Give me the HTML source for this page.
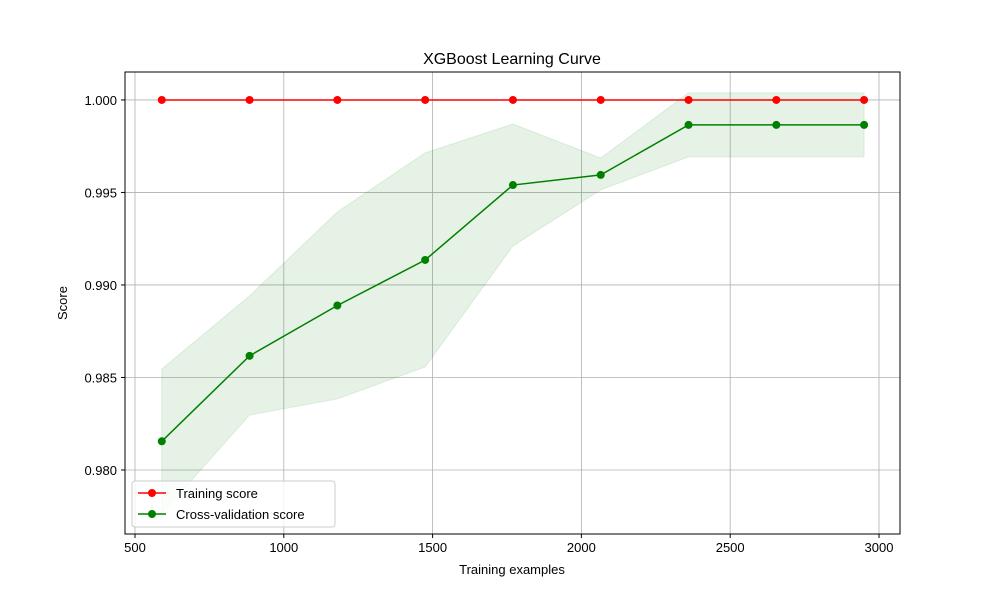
<!DOCTYPE html>
<html><head><meta charset="utf-8"><style>
body{margin:0;background:#fff;}
svg text{font-family:"Liberation Sans","DejaVu Sans",sans-serif;}
</style></head><body>
<svg id="chart" width="1000" height="600" xmlns="http://www.w3.org/2000/svg">
<rect width="1000" height="600" fill="#fff"/>
<g id="grid"></g><g id="band"></g><g id="lines"></g><g id="axes"></g>
<text x="512" y="64" text-anchor="middle" font-size="16">XGBoost Learning Curve</text>
<text x="512" y="574" text-anchor="middle" font-size="13">Training examples</text>
<text transform="translate(67,303) rotate(-90)" text-anchor="middle" font-size="13">Score</text>
<g>
<rect x="132" y="481" width="203" height="46" rx="3" fill="#fff" fill-opacity="0.8" stroke="#ccc"/>
<g><line x1="138" y1="493" x2="166" y2="493" stroke="red" stroke-width="1.5"/><circle cx="152" cy="493" r="4" fill="red"/><text x="176" y="498" font-size="13">Training score</text></g>
<g><line x1="138" y1="514" x2="166" y2="514" stroke="green" stroke-width="1.5"/><circle cx="152" cy="514" r="4" fill="green"/><text x="176" y="519" font-size="13">Cross-validation score</text></g>
</g>
</svg>
<script>
const trainSizes=[590,885,1180,1475,1770,2065,2360,2655,2950];
const trainScores=[1,1,1,1,1,1,1,1,1];
const cvScores=[0.98155,0.98617,0.98889,0.99135,0.99540,0.99595,0.99865,0.99865,0.99865];
const cvUpper=[0.98546,0.98941,0.99395,0.99714,0.99870,0.99686,1.00038,1.00038,1.00038];
const cvLower=[0.97764,0.98297,0.98384,0.98557,0.99211,0.99514,0.99692,0.99692,0.99692];
const xTicks=[500,1000,1500,2000,2500,3000];
const yTicks=[0.980,0.985,0.990,0.995,1.000];
const L=125,R=900,T=72,B=534,xMin=466.4,xMax=3070.6,yMin=0.97654,yMax=1.00151;
const NS="http://www.w3.org/2000/svg";
const X=v=>L+(v-xMin)/(xMax-xMin)*(R-L);
const Y=v=>B-(v-yMin)/(yMax-yMin)*(B-T);
function mk(p,tag,at){const e=document.createElementNS(NS,tag);for(const k in at)e.setAttribute(k,at[k]);p.appendChild(e);return e;}
const grid=document.getElementById('grid'),band=document.getElementById('band'),lines=document.getElementById('lines'),axes=document.getElementById('axes');
const clip=mk(document.getElementById('chart'),'clipPath',{id:'pc'});mk(clip,'rect',{x:L,y:T,width:R-L,height:B-T});
band.setAttribute('clip-path','url(#pc)');
xTicks.forEach(t=>{const x=X(t);
 const g=mk(grid,'line',{x1:x,x2:x,y1:T,y2:B,stroke:'#b0b0b0','stroke-width':0.8});
 
 mk(axes,'line',{x1:x,x2:x,y1:B,y2:B+4,stroke:'#000'});
 const tx=mk(axes,'text',{x:x,y:B+18,'text-anchor':'middle','font-size':13});tx.textContent=t;
 });
yTicks.forEach(t=>{const y=Y(t);
 const g=mk(grid,'line',{x1:L,x2:R,y1:y,y2:y,stroke:'#b0b0b0','stroke-width':0.8});
 
 mk(axes,'line',{x1:L-4,x2:L,y1:y,y2:y,stroke:'#000'});
 const tx=mk(axes,'text',{x:L-8,y:y+5,'text-anchor':'end','font-size':13});tx.textContent=t.toFixed(3);
 });
const fr=mk(axes,'rect',{x:L,y:T,width:R-L,height:B-T,fill:'none',stroke:'#000','stroke-width':1});

let pts=trainSizes.map((s,i)=>X(s)+','+Y(cvUpper[i]));
for(let i=trainSizes.length-1;i>=0;i--)pts.push(X(trainSizes[i])+','+Y(cvLower[i]));
const bp=mk(band,'polygon',{points:pts.join(' '),fill:'green','fill-opacity':0.1,stroke:'green','stroke-opacity':0.1});

function series(vals,col,name){
 const pl=mk(lines,'polyline',{points:trainSizes.map((s,i)=>X(s)+','+Y(vals[i])).join(' '),fill:'none',stroke:col,'stroke-width':1.5});
 
 trainSizes.forEach((s,i)=>{const c=mk(lines,'circle',{cx:X(s),cy:Y(vals[i]),r:4,fill:col});
 });
}
series(trainScores,'red','training-score');
series(cvScores,'green','cv-score');
</script>
</body></html>
